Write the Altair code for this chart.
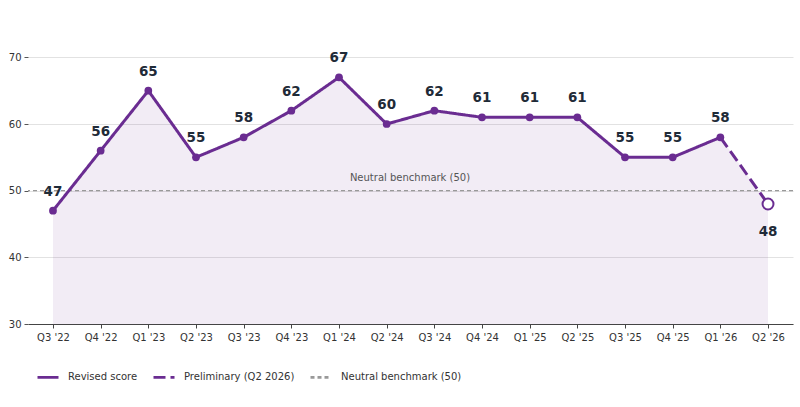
import altair as alt
import pandas as pd

quarters = ["Q3 '22", "Q4 '22", "Q1 '23", "Q2 '23", "Q3 '23", "Q4 '23", "Q1 '24", "Q2 '24",
            "Q3 '24", "Q4 '24", "Q1 '25", "Q2 '25", "Q3 '25", "Q4 '25", "Q1 '26", "Q2 '26"]
revised = [47, 56, 65, 55, 58, 62, 67, 60, 62, 61, 61, 61, 55, 55, 58]
prelim_quarters = ["Q1 '26", "Q2 '26"]
prelim = [58, 48]
benchmark = 50
series_names = ["Revised score", "Preliminary (Q2 2026)", "Neutral benchmark (50)"]

PURPLE = "#6a2c91"
FONT = "DejaVu Sans"

rev_df = pd.DataFrame({"q": quarters[:len(revised)], "v": revised, "series": series_names[0]})
pre_df = pd.DataFrame({"q": prelim_quarters, "v": prelim, "series": series_names[1]})
all_df = pd.DataFrame({"q": quarters, "v": revised + prelim[1:]})
bench_df = pd.DataFrame({"v": [benchmark], "series": [series_names[2]]})
lab_df = pd.DataFrame({"v": [benchmark], "txt": ["Neutral benchmark (50)"]})

x_enc = alt.X("q:O", sort=quarters,
              scale=alt.Scale(type="point", domain=quarters, padding=0.524),
              axis=alt.Axis(title=None, labelAngle=0, domainColor="#444", tickColor="#444",
                            tickSize=4, labelColor="#333", labelFont=FONT, labelFontSize=10,
                            labelPadding=4, grid=False))
y_scale = alt.Scale(domain=[30, 75], nice=False, zero=False)
y_enc = alt.Y("v:Q", scale=y_scale,
              axis=alt.Axis(title=None, values=[30, 40, 50, 60, 70], domain=False,
                            tickColor="#555", tickSize=4, labelColor="#333", labelFont=FONT,
                            labelFontSize=10, labelPadding=3, gridColor="#e2e2e2"))


def leg():
    return alt.Legend(title=None, orient="none", legendX=8, legendY=341,
                      direction="horizontal", columns=3, symbolType="stroke",
                      symbolSize=441, symbolStrokeWidth=2.6, labelFont=FONT,
                      labelFontSize=10, labelColor="#333", labelOffset=8,
                      columnPadding=10)


color_enc = alt.Color("series:N", scale=alt.Scale(domain=series_names, range=[PURPLE, PURPLE, "#999999"]),
                      legend=leg())
dash_enc = alt.StrokeDash("series:N", scale=alt.Scale(domain=series_names, range=[[1, 0], [12, 5], [4, 3]]),
                          legend=leg())

area = alt.Chart(all_df).mark_area(color=PURPLE, opacity=0.09).encode(
    x=x_enc, y=y_enc, y2=alt.datum(30))

rule = alt.Chart(bench_df).mark_rule(strokeWidth=1.2).encode(
    y=alt.Y("v:Q", scale=y_scale), color=color_enc, strokeDash=dash_enc)

rule_label = alt.Chart(lab_df).mark_text(font=FONT, fontSize=10, color="#555", dy=-13).encode(
    y=alt.Y("v:Q", scale=y_scale), x=alt.value(382), text="txt:N")

line_rev = alt.Chart(rev_df).mark_line(strokeWidth=3).encode(
    x=x_enc, y=y_enc, color=color_enc, strokeDash=dash_enc)
line_pre = alt.Chart(pre_df).mark_line(strokeWidth=3).encode(
    x=x_enc, y=y_enc, color=color_enc, strokeDash=dash_enc)

pts = alt.Chart(rev_df).mark_point(filled=True, size=60, color=PURPLE, opacity=1).encode(x=x_enc, y=y_enc)
pt_end = alt.Chart(pre_df.iloc[1:]).mark_point(filled=True, fill="white", stroke=PURPLE, strokeWidth=2,
                                               size=120, opacity=1).encode(x=x_enc, y=y_enc)

lab_up = alt.Chart(rev_df).mark_text(font=FONT, fontSize=13.5, fontWeight="bold", color="#1f2b38",
                                     dy=-19).encode(x=x_enc, y=y_enc, text="v:Q")
lab_dn = alt.Chart(pre_df.iloc[1:]).mark_text(font=FONT, fontSize=13.5, fontWeight="bold", color="#1f2b38",
                                              dy=28).encode(x=x_enc, y=y_enc, text="v:Q")

chart = alt.layer(area, rule, rule_label, line_rev, line_pre, pts, pt_end, lab_up, lab_dn).properties(
    width=765, height=300,
    autosize=alt.AutoSizeParams(type="none"),
    padding={"left": 28, "top": 24, "right": 7, "bottom": 83},
    background="white",
).configure_view(stroke=None)

chart.save("out.html", embed_options={"renderer": "svg", "actions": False})
